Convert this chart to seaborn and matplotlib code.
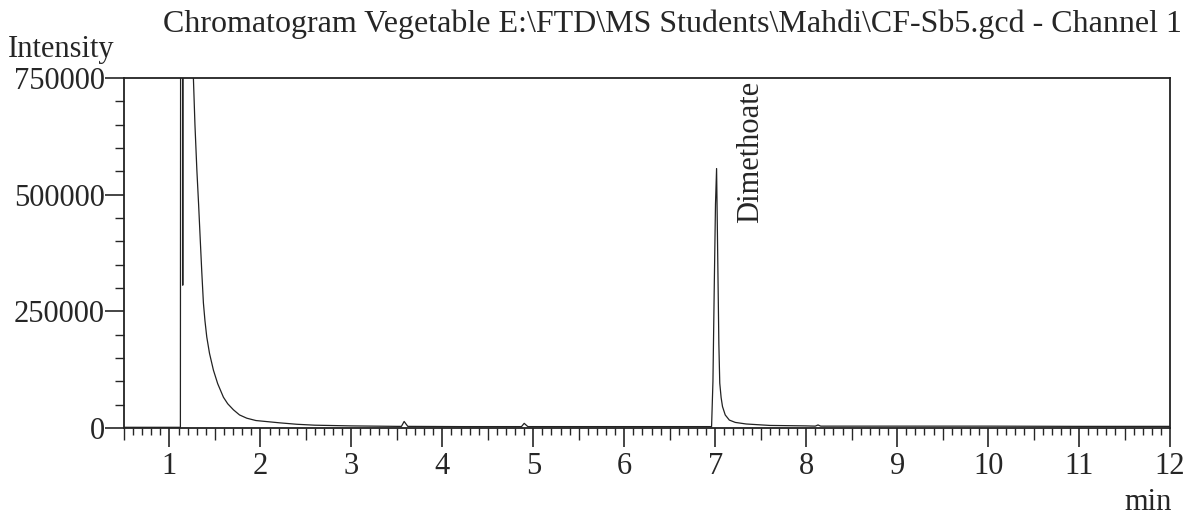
import numpy as np
import pandas as pd
import seaborn as sns
import matplotlib
matplotlib.use("Agg")
import matplotlib.pyplot as plt
from matplotlib.ticker import MultipleLocator, FixedLocator

# Retention time (min) and detector intensity
time_min = [0.50, 1.00, 1.120, 1.124, 1.142, 1.146, 1.150, 1.240, 1.263, 1.280,
            1.301, 1.320, 1.337, 1.355, 1.373, 1.390, 1.410, 1.440, 1.483, 1.530,
            1.593, 1.640, 1.703, 1.770, 1.850, 1.950, 2.215, 2.40, 2.60, 3.00,
            3.50, 3.55, 3.58, 3.62, 4.20, 4.87, 4.90, 4.94, 5.50, 6.50,
            6.960, 6.975, 6.990, 7.003, 7.015, 7.030, 7.040, 7.050, 7.065, 7.080,
            7.110, 7.155, 7.220, 7.340, 7.60, 8.00, 8.10, 8.13, 8.16, 9.00,
            10.00, 11.00, 12.00]
intensity = [1500, 1500, 1500, 1500000, 1500000, 306000, 1500000, 1500000, 750000, 650000,
             553000, 480000, 409000, 335000, 268000, 230000, 195000, 160000, 124000, 95000,
             66000, 52000, 39000, 28000, 21000, 16000, 11000, 8000, 6000, 4500,
             3500, 3500, 14000, 3500, 3000, 3000, 10000, 3000, 3000, 3000,
             3000, 100000, 310000, 480000, 556000, 330000, 180000, 96000, 65000, 46000,
             28000, 17000, 12000, 8600, 5500, 4500, 4000, 6500, 4000, 4000,
             4000, 3500, 3500]

peak_name = "Dimethoate"
peak_time = 7.385
peak_label_y = 440000

y_ticks = [0, 250000, 500000, 750000]
y_ticklabels = ["0", "250000", "500000", "750000"]
x_ticks = list(range(1, 13))

title = "Chromatogram Vegetable E:\\FTD\\MS Students\\Mahdi\\CF-Sb5.gcd - Channel 1"

df = pd.DataFrame({"time": time_min, "intensity": intensity})

sns.set_style("ticks")
plt.rcParams["font.family"] = ["Liberation Serif", "DejaVu Serif"]
plt.rcParams["font.size"] = 22

fig = plt.figure(figsize=(11.93, 5.15), dpi=100)
ax = fig.add_axes([124 / 1193, 87 / 515, (1170 - 124) / 1193, (428 - 78) / 515])

sns.lineplot(data=df, x="time", y="intensity", ax=ax, color="#222222",
             linewidth=0.9, sort=False, estimator=None)

ax.set_xlim(0.5, 12)
ax.set_ylim(0, 750000)
ax.set_xlabel("")
ax.set_ylabel("")

ax.xaxis.set_major_locator(FixedLocator(x_ticks))
ax.set_xticklabels([str(v) for v in x_ticks])
ax.xaxis.set_minor_locator(FixedLocator(
    [round(0.5 + 0.1 * i, 1) for i in range(116) if round((0.5 + 0.1 * i) % 1, 1) not in (0.0, 0.5, 1.0)]))
ax.set_yticks(y_ticks)
ax.set_yticklabels(y_ticklabels)
ax.yaxis.set_minor_locator(MultipleLocator(50000))

ax.tick_params(axis="x", which="major", length=14, width=1.2, pad=3, labelsize=22)
ax.tick_params(axis="x", which="minor", length=5, width=1.0)
ax.tick_params(axis="y", which="major", length=14, width=1.2, pad=0, labelsize=22)
ax.tick_params(axis="y", which="minor", length=6.5, width=1.0)

# half-minute ticks are a bit longer
sec = ax.secondary_xaxis("bottom")
sec.set_xticks([v + 0.5 for v in range(0, 12)])
sec.set_xticklabels([])
sec.tick_params(length=8.6, width=1.0)
sec.spines["bottom"].set_visible(False)

for s in ax.spines.values():
    s.set_linewidth(1.3)
    s.set_color("#222222")

ax.text(peak_time, peak_label_y, peak_name, rotation=90, ha="center", va="bottom", fontsize=22)

fig.text(1182 / 1193, 1 - 24 / 515, title, ha="right", va="center", fontsize=23)
fig.text(8 / 1193, 1 - 50 / 515, "Intensity", ha="left", va="center", fontsize=22)
fig.text(1172 / 1193, 1 - 510 / 515, "min", ha="right", va="baseline", fontsize=22)

fig.savefig("out.png", dpi=100)
